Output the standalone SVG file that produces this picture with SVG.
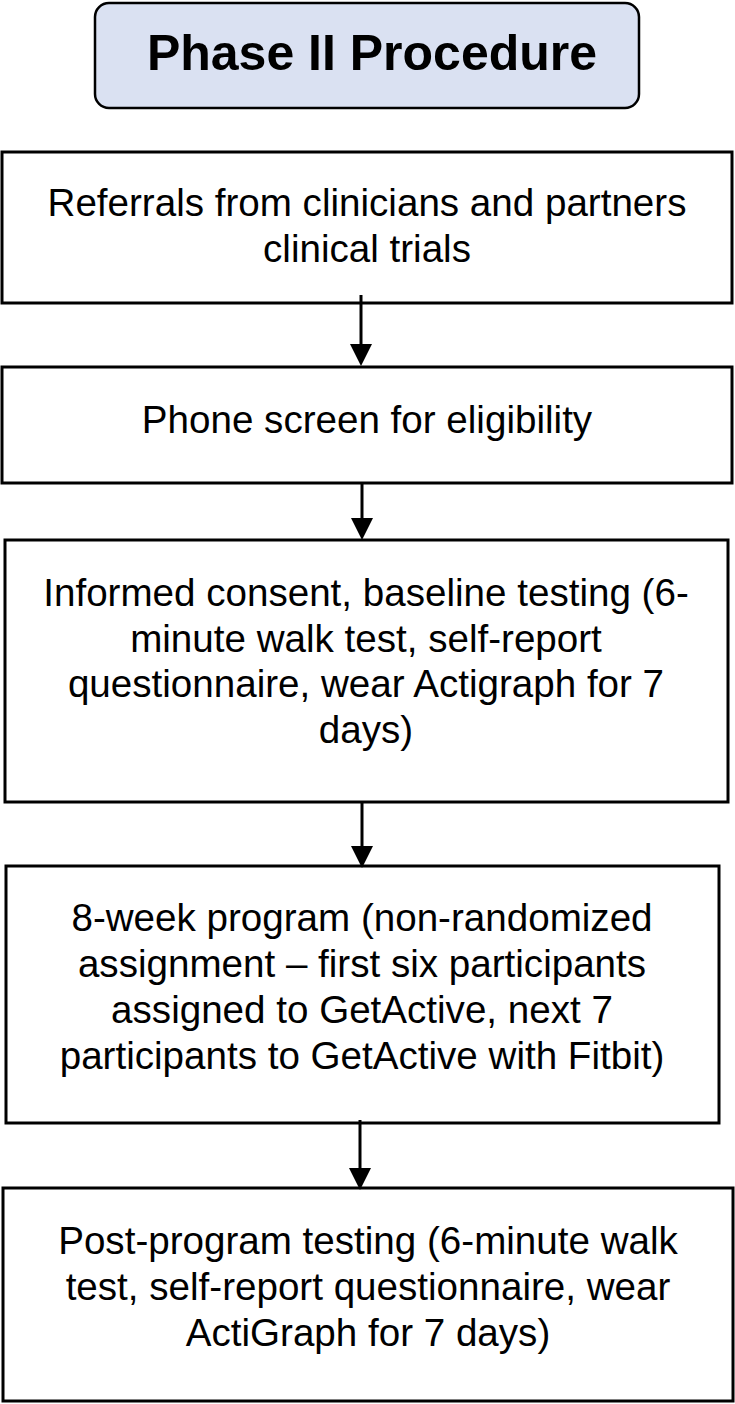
<svg xmlns="http://www.w3.org/2000/svg" width="735" height="1404" viewBox="0 0 735 1404">
<defs>
<style>
.box{fill:#ffffff;stroke:#000000;stroke-width:3}
.title{fill:#dae1f2;stroke:#000000;stroke-width:2.5}
.t{font-family:"Liberation Sans",Arial,sans-serif;font-size:38.6px;fill:#000000;text-anchor:middle}
.tb{font-family:"Liberation Sans",Arial,sans-serif;font-size:50px;font-weight:bold;fill:#000000;text-anchor:middle}
.conn{stroke:#000000;stroke-width:3;fill:none}
.head{fill:#000000}
</style>
</defs>
<rect width="735" height="1404" fill="#ffffff"/>
<g id="title">
<rect class="title" x="95" y="3" width="544" height="105" rx="14" ry="14"/>
<text class="tb" x="372" y="70">Phase II Procedure</text>
</g>
<g id="node1">
<rect class="box" x="2" y="152" width="730" height="151"/>
<text class="t" x="367" y="216">Referrals from clinicians and partners</text>
<text class="t" x="367" y="262">clinical trials</text>
</g>
<g id="node2">
<rect class="box" x="2" y="367" width="730" height="116"/>
<text class="t" x="367" y="433">Phone screen for eligibility</text>
</g>
<g id="node3">
<rect class="box" x="5" y="540" width="723" height="262"/>
<text class="t" x="366" y="606">Informed consent, baseline testing (6-</text>
<text class="t" x="366" y="652">minute walk test, self-report</text>
<text class="t" x="366" y="697">questionnaire, wear Actigraph for 7</text>
<text class="t" x="366" y="743">days)</text>
</g>
<g id="node4">
<rect class="box" x="6" y="866" width="713" height="257"/>
<text class="t" x="362" y="931">8-week program (non-randomized</text>
<text class="t" x="362" y="977">assignment – first six participants</text>
<text class="t" x="362" y="1023">assigned to GetActive, next 7</text>
<text class="t" x="362" y="1069">participants to GetActive with Fitbit)</text>
</g>
<g id="node5">
<rect class="box" x="3" y="1188" width="730" height="213"/>
<text class="t" x="368" y="1254">Post-program testing (6-minute walk</text>
<text class="t" x="368" y="1300">test, self-report questionnaire, wear</text>
<text class="t" x="368" y="1346">ActiGraph for 7 days)</text>
</g>
<g id="connectors">
<line class="conn" x1="361" y1="295" x2="361" y2="345"/>
<polygon class="head" points="350,344 372,344 361,366"/>
<line class="conn" x1="362" y1="484" x2="362" y2="520"/>
<polygon class="head" points="351,518 373,518 362,540"/>
<line class="conn" x1="362" y1="802" x2="362" y2="848"/>
<polygon class="head" points="351,846 373,846 362,868"/>
<line class="conn" x1="360" y1="1120" x2="360" y2="1170"/>
<polygon class="head" points="349,1168 371,1168 360,1190"/>
</g>
</svg>
